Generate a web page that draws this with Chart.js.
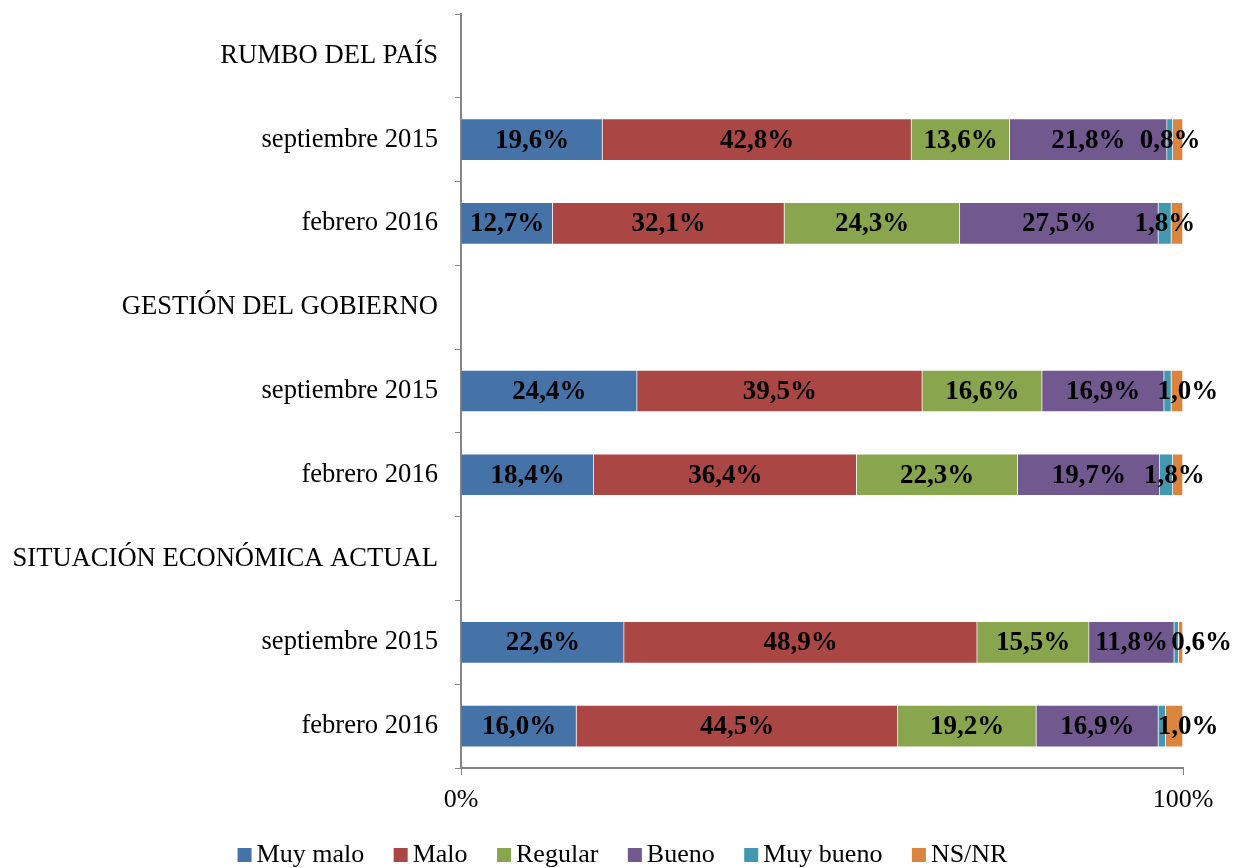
<!DOCTYPE html>
<html><head><meta charset="utf-8">
<script src="https://cdn.jsdelivr.net/npm/chart.js@4"></script>
<style>html,body{margin:0;padding:0;background:#fff}#wrap{width:1241px;height:868px}</style>
</head><body><div id="wrap"><canvas id="c" width="1241" height="868"></canvas></div>
<script>
const categories = ["RUMBO DEL PAÍS","septiembre 2015","febrero 2016","GESTIÓN DEL GOBIERNO","septiembre 2015","febrero 2016","SITUACIÓN ECONÓMICA ACTUAL","septiembre 2015","febrero 2016"];
const muyMalo  = [null,19.6,12.7,null,24.4,18.4,null,22.6,16.0];
const malo     = [null,42.8,32.1,null,39.5,36.4,null,48.9,44.5];
const regular  = [null,13.6,24.3,null,16.6,22.3,null,15.5,19.2];
const bueno    = [null,21.8,27.5,null,16.9,19.7,null,11.8,16.9];
const muyBueno = [null,0.8,1.8,null,1.0,1.8,null,0.6,1.0];
const nsnr     = [null,1.4,1.6,null,1.6,1.4,null,0.6,2.4];
const seriesNames = ["Muy malo","Malo","Regular","Bueno","Muy bueno","NS/NR"];
const xTicks = [0,100];

// styling
const colors = ["#4572A7","#AA4643","#89A54E","#71588F","#4198AF","#DB843D"];
const FONT = "'Liberation Serif','Times New Roman',serif";
const muyBuenoLabelShift = [0,0,0,0,20,8,0,25,26]; // px nudges of overlapping labels

const labelPlugin = {
  id:'lbl',
  afterDatasetsDraw(chart){
    const ctx = chart.ctx;
    ctx.save();
    ctx.font = "bold 27px " + FONT;
    ctx.fillStyle = "#000";
    ctx.textAlign = "center";
    ctx.textBaseline = "middle";
    chart.data.datasets.forEach((ds,di)=>{
      if(di>4) return;
      const meta = chart.getDatasetMeta(di);
      meta.data.forEach((el,i)=>{
        const v = ds.data[i];
        if(v==null) return;
        const p = el.getProps(['x','y','base'],true);
        let cx = (p.x+p.base)/2;
        if(di===4) cx += muyBuenoLabelShift[i];
        ctx.fillText(v.toFixed(1).replace('.',',')+'%', cx, p.y+1);
      });
    });
    ctx.restore();
  }
};

const legendPlugin = {
  id:'customLegend',
  afterDraw(chart){
    const ctx = chart.ctx;
    ctx.save();
    ctx.font = "26px " + FONT;
    const box = 14, gap = 5, spacing = 29.5;
    const ds = chart.data.datasets;
    const widths = ds.map(d=>box+gap+ctx.measureText(d.label).width);
    const total = widths.reduce((a,b)=>a+b,0) + spacing*(ds.length-1);
    let x = (chart.width - total)/2 + 2;
    const baseline = 862;
    ds.forEach((d,i)=>{
      ctx.fillStyle = d.backgroundColor;
      ctx.fillRect(x, baseline-14, box, box);
      ctx.fillStyle = '#000';
      ctx.textAlign = 'left';
      ctx.textBaseline = 'alphabetic';
      ctx.fillText(d.label, x+box+gap, baseline);
      x += widths[i] + spacing;
    });
    ctx.restore();
  }
};

const data = [muyMalo,malo,regular,bueno,muyBueno,nsnr];
new Chart(document.getElementById('c'),{
  type:'bar',
  data:{
    labels:categories,
    datasets:data.map((d,i)=>({label:seriesNames[i],data:d,backgroundColor:colors[i],borderColor:'rgba(255,255,255,0.35)',borderWidth:1,barThickness:42}))
  },
  options:{
    indexAxis:'y',
    responsive:false,
    animation:false,
    layout:{padding:{top:14,right:58,left:0,bottom:0}},
    scales:{
      x:{stacked:true,min:0,max:100,
        afterBuildTicks(s){s.ticks=xTicks.map(v=>({value:v}));},
        afterFit(s){s.height=100;},
        ticks:{callback:v=>v+'%',font:{family:FONT,size:26},color:'#000',padding:10,maxRotation:0},
        grid:{drawOnChartArea:false,color:'#868686',tickLength:7,tickColor:'#868686'},
        border:{color:'#868686',width:2}},
      y:{stacked:true,
        afterFit(s){s.width=461;s.paddingTop=0;s.paddingBottom=0;},
        ticks:{font:{family:FONT,size:26.6},color:'#000',padding:17,autoSkip:false},
        grid:{drawOnChartArea:false,offset:true,color:'#868686',tickLength:6,tickColor:'#868686'},
        border:{color:'#868686',width:2}}
    },
    plugins:{
      legend:{display:false},
      tooltip:{enabled:false}
    }
  },
  plugins:[labelPlugin,legendPlugin]
});
</script></body></html>
